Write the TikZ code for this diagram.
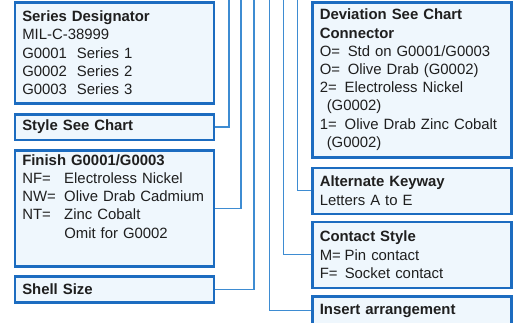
\documentclass[tikz,border=0pt]{standalone}
\usepackage{fontspec}
\setmainfont{Liberation Sans}
\usepackage{tikz}
\usetikzlibrary{arrows.meta,positioning,calc}
\definecolor{boxblue}{RGB}{28,108,192}
\definecolor{leadblue}{RGB}{62,140,210}
\definecolor{boxfill}{RGB}{239,247,253}
\tikzset{
  specbox/.style={draw=boxblue,line width=2.5pt,fill=boxfill,anchor=north west,
    align=left,text width=184pt,inner xsep=7.5pt,inner ysep=4pt,
    font=\fontsize{14.9}{18.2}\selectfont,text=black!88},
  leadline/.style={draw=leadblue,line width=1.3pt}
}
\newcommand{\tabbed}[2]{\makebox[#1][l]{#2}}

\begin{document}
\begin{tikzpicture}[x=1pt,y=-1pt]
  \useasboundingbox (0,0) rectangle (513,322);
  % left column
  \node[specbox,minimum height=101pt] (series) at (13.5,1)
    {\textbf{Series Designator}\\MIL-C-38999\\G0001\ \ Series 1\\G0002\ \ Series 2\\G0003\ \ Series 3};
  \node[specbox,minimum height=25.5pt] (style) at (13.5,113) {\textbf{Style See Chart}};
  \node[specbox,text height=11pt,text depth=97pt] (finish) at (13.5,149)
    {\textbf{Finish G0001/G0003}\\\tabbed{42pt}{NF=}Electroless Nickel\\
     \tabbed{42pt}{NW=}Olive Drab Cadmium\\\tabbed{42pt}{NT=}Zinc Cobalt\\
     \tabbed{42pt}{}Omit for G0002};
  \node[specbox,minimum height=26pt] (shell) at (13.5,275) {\textbf{Shell Size}};
  % right column
  \node[specbox,minimum height=155pt] (deviation) at (311,1)
    {\textbf{Deviation See Chart}\\\textbf{Connector}\\\tabbed{28pt}{O=}Std on G0001/G0003\\
     \tabbed{28pt}{O=}Olive Drab (G0002)\\\tabbed{25pt}{2=}Electroless Nickel\\
     \hspace*{7pt}(G0002)\\\tabbed{25pt}{1=}Olive Drab Zinc Cobalt\\\hspace*{7pt}(G0002)};
  \node[specbox,minimum height=46pt] (keyway) at (311,166.5)
    {\textbf{Alternate Keyway}\\Letters A to E};
  \node[specbox,minimum height=66pt] (contact) at (311,220.5)
    {\textbf{Contact Style}\\\tabbed{25pt}{M=}Pin contact\\\tabbed{25pt}{F=}Socket contact};
  \node[specbox,minimum height=29pt] (insert) at (311,295) {\textbf{Insert arrangement}};
  % leads from the part number above
  \coordinate (leadA) at (229,-2);
  \coordinate (leadB) at (241,-2);
  \coordinate (leadC) at (254,-2);
  \coordinate (leadD) at (269.5,-2);
  \coordinate (leadE) at (283.5,-2);
  \coordinate (leadF) at (297.5,-2);
  \draw[leadline] (leadA) |- (style.east);
  \draw[leadline] (leadB) |- (finish.east);
  \draw[leadline] (leadC) |- (shell.east);
  \draw[leadline] (leadD) |- (insert.west);
  \draw[leadline] (leadE) |- (contact.west);
  \draw[leadline] (leadF) |- (keyway.west);
\end{tikzpicture}
\end{document}
